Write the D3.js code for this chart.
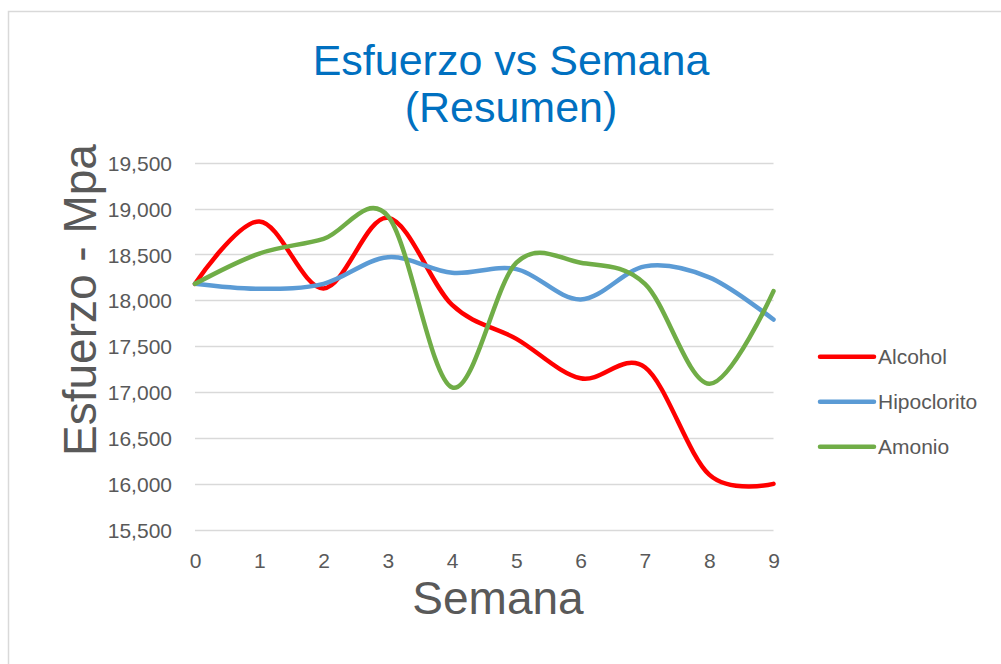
<!DOCTYPE html>
<html>
<head>
<meta charset="utf-8">
<script src="https://cdn.jsdelivr.net/npm/d3@7"></script>
<style>
  body { margin: 0; background: #fff; }
  svg { display: block; }
</style>
</head>
<body>
<div id="chart"></div>
<script>
// semanas 0..9
var semanas = [0, 1, 2, 3, 4, 5, 6, 7, 8, 9];
var alcohol     = [18180, 18860, 18130, 18900, 17950, 17580, 17150, 17270, 16100, 16000];
var hipoclorito = [18180, 18125, 18180, 18470, 18300, 18340, 18010, 18370, 18250, 17790];
var amonio      = [18180, 18510, 18670, 18920, 17050, 18410, 18410, 18180, 17090, 18100];
var seriesNames = ["Alcohol", "Hipoclorito", "Amonio"];
var seriesColors = ["#ff0000", "#5b9bd5", "#70ad47"];
var yTicks = [15500, 16000, 16500, 17000, 17500, 18000, 18500, 19000, 19500];

var W = 1001, H = 664;
var svg = d3.select("#chart").append("svg")
  .attr("width", W).attr("height", H);

svg.append("rect").attr("width", W).attr("height", H).attr("fill", "#fff");
// chart frame (runs off the right/bottom edge)
svg.append("rect")
  .attr("x", 8.5).attr("y", 11.5)
  .attr("width", 1010).attr("height", 670)
  .attr("fill", "none").attr("stroke", "#d9d9d9").attr("stroke-width", 1.5);

var x = d3.scaleLinear().domain([0, 9]).range([195, 773.5]);
var y = d3.scaleLinear().domain([15500, 19500]).range([529.7, 162.7]);

var txtCol = "#595959";
var font = "'Liberation Sans', Arial, sans-serif";

// gridlines
svg.append("g").selectAll("line").data(yTicks).enter().append("line")
  .attr("x1", x(0)).attr("x2", x(9))
  .attr("y1", function(d) { return Math.round(y(d)) + 0.5; })
  .attr("y2", function(d) { return Math.round(y(d)) + 0.5; })
  .attr("stroke", "#d9d9d9").attr("stroke-width", 1.3);

// y labels
var yAxis = d3.axisLeft(y).tickValues(yTicks).tickSize(0).tickPadding(0)
  .tickFormat(d3.format(","));
var gy = svg.append("g").attr("transform", "translate(172,0)").call(yAxis);
gy.select(".domain").remove();
gy.selectAll("text").attr("fill", txtCol).style("font-family", font).style("font-size", "21px")
  .attr("dy", "0.36em");

// x labels
var xAxis = d3.axisBottom(x).tickValues(semanas).tickSize(0).tickPadding(0)
  .tickFormat(d3.format("d"));
var gx = svg.append("g").attr("transform", "translate(0,553)").call(xAxis);
gx.select(".domain").remove();
gx.selectAll("text").attr("fill", txtCol).style("font-family", font).style("font-size", "21px")
  .attr("dy", "0.72em");

// series
var data = [alcohol, hipoclorito, amonio];
var line = d3.line()
  .x(function(d, i) { return x(semanas[i]); })
  .y(function(d) { return y(d); })
  .curve(d3.curveCatmullRom.alpha(0));

svg.append("g").selectAll("path").data(data).enter().append("path")
  .attr("d", line)
  .attr("fill", "none")
  .attr("stroke", function(d, i) { return seriesColors[i]; })
  .attr("stroke-width", 4.5)
  .attr("stroke-linecap", "round")
  .attr("stroke-linejoin", "round");

// titles
var title = svg.append("text")
  .attr("text-anchor", "middle")
  .attr("fill", "#0070c0")
  .style("font-family", font).style("font-size", "43px");
title.append("tspan").attr("x", 511).attr("y", 75).text("Esfuerzo vs Semana");
title.append("tspan").attr("x", 511).attr("y", 122).text("(Resumen)");

svg.append("text")
  .attr("text-anchor", "middle")
  .attr("x", 498).attr("y", 614)
  .attr("fill", txtCol)
  .style("font-family", font).style("font-size", "46px")
  .text("Semana");

svg.append("text")
  .attr("text-anchor", "middle")
  .attr("transform", "translate(96,300) rotate(-90)")
  .attr("fill", txtCol)
  .style("font-family", font).style("font-size", "46px")
  .text("Esfuerzo - Mpa");

// legend
var legend = svg.append("g").selectAll("g").data(seriesNames).enter().append("g")
  .attr("transform", function(d, i) { return "translate(0," + (356.7 + i * 45) + ")"; });
legend.append("line")
  .attr("x1", 820).attr("x2", 874)
  .attr("stroke", function(d, i) { return seriesColors[i]; })
  .attr("stroke-width", 4.5).attr("stroke-linecap", "round");
legend.append("text")
  .attr("x", 878).attr("dy", "0.36em")
  .attr("fill", txtCol)
  .style("font-family", font).style("font-size", "21px")
  .text(function(d) { return d; });
</script>
</body>
</html>
